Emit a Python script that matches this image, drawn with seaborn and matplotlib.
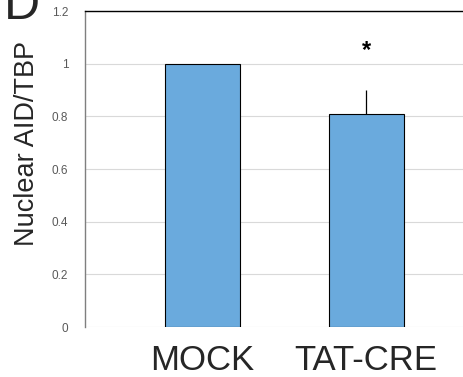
import matplotlib
matplotlib.use("Agg")
import matplotlib.pyplot as plt
import seaborn as sns
import pandas as pd

groups = ["MOCK", "TAT-CRE"]
ratio = [1.0, 0.81]
err_up = [0.0, 0.09]
yticks = [0, 0.2, 0.4, 0.6, 0.8, 1.0, 1.2]
ytick_labels = ["0", "0.2", "0.4", "0.6", "0.8", "1", "1.2"]

sns.set_theme(style="white")
plt.rcParams["font.family"] = ["Liberation Sans", "DejaVu Sans"]

df = pd.DataFrame({"group": groups, "ratio": ratio})

fig = plt.figure(figsize=(4.63, 3.77), dpi=100)
ax = fig.add_axes([0.1836, 0.1326, 0.8164, 0.8382])

sns.barplot(data=df, x="group", y="ratio", color="#6AAADD", saturation=1,
            width=0.46, edgecolor="black", linewidth=0.8, ax=ax, zorder=3)

# upper-only error bar on the treated group
ax.errorbar([1], [ratio[1]], yerr=[[0], [err_up[1]]], fmt="none",
            ecolor="black", elinewidth=0.9, capsize=0, zorder=4)
ax.text(1, ratio[1] + err_up[1] + 0.15, "*", ha="center", va="center",
        fontsize=17, fontweight="bold", color="black")

ax.set_ylim(0, 1.2)
ax.set_xlim(-0.72, 1.593)
ax.set_yticks(yticks)
ax.set_yticklabels(ytick_labels, fontsize=8.5, color="#595959")
ax.yaxis.grid(True, color="#D9D9D9", linewidth=0.8, zorder=0)
ax.set_axisbelow(True)
ax.tick_params(axis="y", length=0, pad=12)
ax.tick_params(axis="x", length=0, labelsize=25, pad=12)
ax.set_xlabel("")
ax.set_ylabel("Nuclear AID/TBP", fontsize=19.5)
ax.yaxis.set_label_coords(-0.118, 0.58)

for s in ["right", "bottom"]:
    ax.spines[s].set_visible(False)
ax.spines["left"].set_color("#7F7F7F")
ax.spines["left"].set_linewidth(1.0)
ax.spines["top"].set_color("black")
ax.spines["top"].set_linewidth(1.0)

fig.text(0.008, 1.045, "D", fontsize=36, ha="left", va="top")

fig.savefig("out.png", dpi=100)
